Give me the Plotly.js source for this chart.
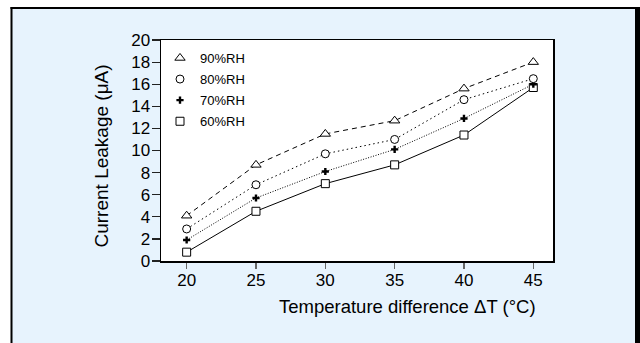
<!DOCTYPE html>
<html>
<head>
<meta charset="utf-8">
<script src="https://cdn.plot.ly/plotly-3.0.1.min.js"></script>
<style>
html,body{margin:0;padding:0;background:#ffffff;}
#chart{width:640px;height:343px;}
</style>
</head>
<body>
<div id="chart"></div>
<script>
// ---- data ----
const deltaT = [20, 25, 30, 35, 40, 45];
const rh90 = [4.1, 8.7, 11.5, 12.7, 15.6, 18.0];
const rh80 = [2.9, 6.9, 9.7, 11.0, 14.6, 16.5];
const rh70 = [1.9, 5.7, 8.1, 10.1, 12.9, 16.0];
const rh60 = [0.8, 4.5, 7.0, 8.7, 11.4, 15.7];
const seriesNames = ['90%RH', '80%RH', '70%RH', '60%RH'];
const xTickVals = [20, 25, 30, 35, 40, 45];
const yTickVals = [0, 2, 4, 6, 8, 10, 12, 14, 16, 18, 20];

const FONT = 'Liberation Sans, Arial, sans-serif';
const BLUE = '#e7f3fd';

// geometry helpers (pixel -> paper)
const L = 161, R = 87, T = 40, B = 82, W = 640, H = 343;
const pw = W - L - R, ph = H - T - B;
const px = v => (v - L) / pw;
const py = v => (H - B - v) / ph;

const seriesY = [rh90, rh80, rh70, rh60];
const dashes = ['5px,4px', '1.5px,3px', '1px,1.6px', 'solid'];
const symbols = ['triangle-up', 'circle', 'cross', 'square'];
const mcolors = ['#ffffff', '#ffffff', '#000000', '#ffffff'];
const msizes = [9, 8, 6, 8];

const traces = [];
// lines
for (let i = 0; i < 4; i++) {
  traces.push({
    x: deltaT, y: seriesY[i], mode: 'lines', type: 'scatter',
    line: {color: '#000', width: 1, dash: dashes[i]},
    showlegend: false, hoverinfo: 'skip'
  });
}
// markers (60 drawn first so crosses sit on squares)
for (let i = 3; i >= 0; i--) {
  traces.push({
    x: deltaT, y: seriesY[i], mode: 'markers', type: 'scatter',
    name: seriesNames[i], legendgroup: seriesNames[i], legendrank: i + 1,
    marker: {symbol: symbols[i], size: msizes[i], color: mcolors[i],
             line: {color: '#000', width: i === 2 ? 0 : 1}}
  });
}

const layout = {
  width: W, height: H,
  margin: {l: L, r: R, t: T, b: B, pad: 0},
  paper_bgcolor: BLUE,
  plot_bgcolor: '#ffffff',
  font: {family: FONT, color: '#000', size: 16},
  showlegend: true,
  legend: {
    x: px(160), y: py(43), xanchor: 'left', yanchor: 'top',
    bgcolor: 'rgba(0,0,0,0)', borderwidth: 0,
    font: {family: FONT, size: 13, color: '#000'},
    traceorder: 'grouped', tracegroupgap: 1.2, itemwidth: 30
  },
  xaxis: {
    range: [18.15, 46.42], tickvals: xTickVals, ticktext: xTickVals.map(String),
    ticks: 'outside', ticklen: 6, tickwidth: 1.5, tickcolor: '#666',
    ticklabelstandoff: -3,
    showline: true, linecolor: '#000', linewidth: 1.5, mirror: true,
    showgrid: false, zeroline: false,
    tickfont: {family: FONT, size: 17, color: '#000'}
  },
  yaxis: {
    range: [0, 20], tickvals: yTickVals, ticktext: yTickVals.map(String),
    ticks: 'outside', ticklen: 8, tickwidth: 1.2, tickcolor: '#222',
    ticklabelstandoff: -2,
    showline: true, linecolor: '#000', linewidth: 1.5, mirror: true,
    showgrid: false, zeroline: false,
    tickfont: {family: FONT, size: 17, color: '#000'}
  },
  annotations: [
    {xref: 'paper', yref: 'paper', x: px(407), y: py(306), xanchor: 'center', yanchor: 'middle',
     text: 'Temperature difference \u0394T (\u00B0C)', showarrow: false,
     font: {family: FONT, size: 18.5, color: '#000'}},
    {xref: 'paper', yref: 'paper', x: px(101), y: py(156.5), xanchor: 'center', yanchor: 'middle',
     text: 'Current Leakage (\u03BCA)', textangle: -90, showarrow: false,
     font: {family: FONT, size: 19, color: '#000'}}
  ],
  shapes: [
    // white outside strips
    {type: 'rect', xref: 'paper', yref: 'paper', x0: px(-5), x1: px(645), y0: py(7), y1: py(-5),
     fillcolor: '#ffffff', line: {width: 0}},
    {type: 'rect', xref: 'paper', yref: 'paper', x0: px(-5), x1: px(11), y0: py(350), y1: py(-5),
     fillcolor: '#ffffff', line: {width: 0}},
    // black frame lines
    {type: 'line', xref: 'paper', yref: 'paper', x0: px(10.5), x1: px(645), y0: py(8), y1: py(8),
     line: {color: '#000', width: 2}},
    {type: 'line', xref: 'paper', yref: 'paper', x0: px(11.5), x1: px(11.5), y0: py(7), y1: py(350),
     line: {color: '#000', width: 2}},
    {type: 'rect', xref: 'paper', yref: 'paper', x0: px(635), x1: px(645), y0: py(350), y1: py(7),
     fillcolor: '#000', line: {width: 0}}
  ]
};

Plotly.newPlot('chart', traces, layout, {displayModeBar: false, staticPlot: true});
</script>
</body>
</html>
